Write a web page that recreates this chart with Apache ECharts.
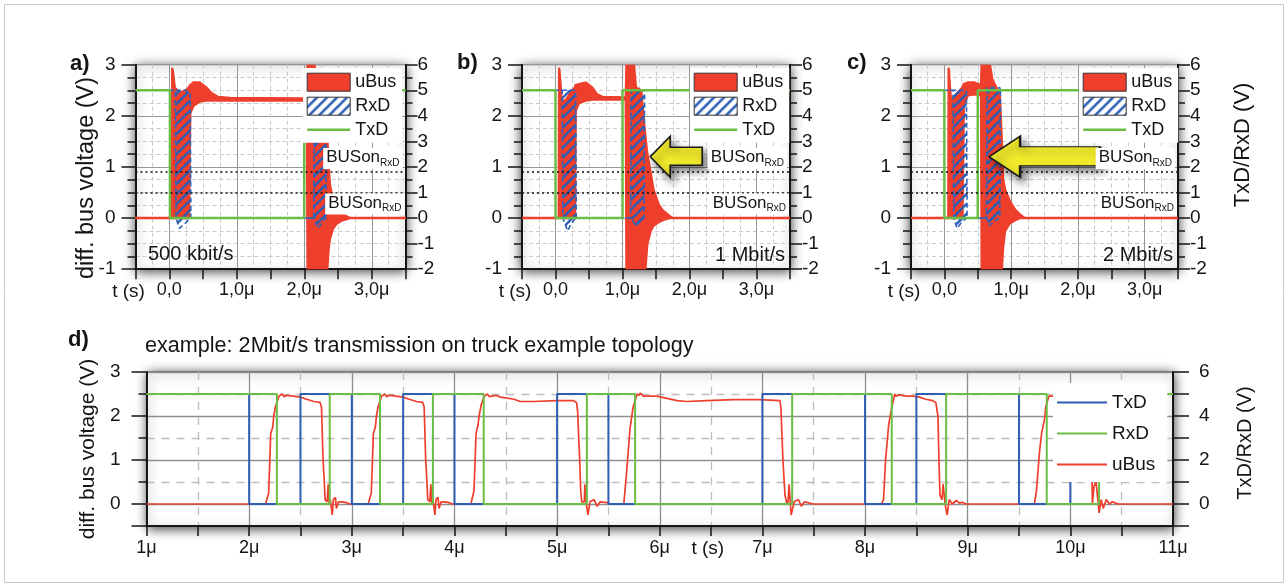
<!DOCTYPE html>
<html><head><meta charset="utf-8">
<script src="https://cdn.jsdelivr.net/npm/echarts@6/dist/echarts.min.js"></script>
<style>html,body{margin:0;padding:0;background:#fff}#c{width:1288px;height:587px}</style>
</head><body><div id="c"></div><script>
// ---------------- DATA ----------------
// panels a-c: time in µs; uBus rows [t, low, high] in V (left axis); RxD rows [t, low, high] in V (right axis); TxD [t, V] (right axis)
const ubusA = [[-0.5,0,0],[0.04,0,0],[0.045,0,2.92],[0.06,0,2.8],[0.08,0,2.55],[0.15,0,2.45],[0.25,0,2.5],[0.29,0,2.55],[0.31,2.05,2.6],[0.36,2.2,2.65],[0.45,2.28,2.65],[0.55,2.3,2.55],[0.62,2.3,2.45],[0.72,2.3,2.37],[0.9,2.3,2.35],[2.04,2.3,2.34],[2.05,-1,3.0],[2.15,-1,3.0],[2.2,-1,2.5],[2.3,-1,2.0],[2.34,-1,1.6],[2.36,-0.6,1.0],[2.38,-0.4,0.65],[2.42,-0.22,0.38],[2.47,-0.12,0.22],[2.55,-0.05,0.1],[2.63,-0.02,0.03],[2.68,0,0],[3.5,0,0]];
const rxdA = [[-0.5,5,5],[0.09,5,5],[0.1,0,5],[0.15,-0.4,5],[0.24,-0.2,5],[0.31,0,4.9],[0.32,0,0],[2.14,0,0],[2.15,0,5],[2.2,-0.4,5],[2.32,0,5],[2.33,5,5],[3.5,5,5]];
const txdA = [[-0.5,5],[0.01,5],[0.01,0],[2.0,0],[2.0,5],[3.5,5]];

const ubusB = [[-0.5,0,0],[0.05,0,0],[0.055,0,2.92],[0.07,0,2.7],[0.09,0,2.3],[0.15,0,2.3],[0.25,0,2.5],[0.29,0,2.55],[0.3,2.1,2.6],[0.35,2.25,2.62],[0.45,2.3,2.65],[0.55,2.32,2.55],[0.62,2.32,2.42],[0.7,2.32,2.37],[1.05,2.32,2.36],[1.06,-1,3.0],[1.17,-1,3.0],[1.2,-1,2.55],[1.28,-1,2.5],[1.31,-1,2.0],[1.34,-1,1.6],[1.37,-0.5,1.25],[1.42,-0.25,0.88],[1.46,-0.15,0.56],[1.54,-0.08,0.26],[1.6,-0.04,0.15],[1.7,0,0.04],[1.75,0,0],[3.5,0,0]];
const rxdB = [[-0.5,5,5],[0.1,5,5],[0.11,0,5],[0.18,-0.5,5],[0.24,-0.2,5],[0.3,0,5],[0.31,0,0],[1.12,0,0],[1.13,0,5],[1.2,-0.3,5],[1.32,0,5],[1.33,5,5],[3.5,5,5]];
const txdB = [[-0.5,5],[0,5],[0,0],[1.0,0],[1.0,5],[3.5,5]];

const ubusC = [[-0.5,0,0],[0.06,0,0],[0.065,0,2.92],[0.08,0,2.6],[0.1,0,2.3],[0.2,0,2.45],[0.27,0,2.55],[0.29,2.2,2.62],[0.35,2.4,2.65],[0.45,2.42,2.65],[0.55,2.4,2.6],[0.56,-1,3.0],[0.68,-1,3.0],[0.72,-1,2.7],[0.8,-1,2.5],[0.83,-1,2.4],[0.86,-1,1.5],[0.88,-0.55,0.75],[0.91,-0.25,0.55],[0.98,-0.1,0.33],[1.06,-0.04,0.16],[1.13,0,0.07],[1.18,0,0.02],[1.2,0,0],[3.5,0,0]];
const rxdC = [[-0.5,5,5],[0.13,5,5],[0.14,0,5],[0.19,-0.4,5],[0.26,-0.15,5],[0.33,0,5],[0.34,0,0],[0.63,0,0],[0.64,0,5.1],[0.67,-0.3,5.1],[0.76,-0.1,5.1],[0.83,0,5.1],[0.84,5,5],[3.5,5,5]];
const txdC = [[-0.5,5],[0,5],[0,0],[0.5,0],[0.5,5],[3.5,5]];

const thresholds = [0.9, 0.5];        // BUSon(RxD) levels, V
const arrowB = [1.414, 1.2];          // arrow tip (µs, V)
const arrowC = [0.67, 1.2];
const topXLabels = ['0,0', '1,0μ', '2,0μ', '3,0μ'];
const rateLabels = ['500 kbit/s', '1 Mbit/s', '2 Mbit/s'];

// panel d: [t µs, value]
const txdD = [[1,5],[2.0,5],[2.0,0],[2.5,0],[2.5,5],[3.0,5],[3.0,0],[3.5,0],[3.5,5],[4.0,5],[4.0,0],[5.0,0],[5.0,5],[5.5,5],[5.5,0],[7.0,0],[7.0,5],[8.0,5],[8.0,0],[8.5,0],[8.5,5],[9.5,5],[9.5,0],[10.0,0],[10.0,5],[11,5]];
const rxdD = [[1,5],[2.27,5],[2.27,0],[2.785,0],[2.785,5],[3.275,5],[3.275,0],[3.79,0],[3.79,5],[4.285,5],[4.285,0],[5.29,0],[5.29,5],[5.76,5],[5.76,0],[7.29,0],[7.29,5],[8.26,5],[8.26,0],[8.79,0],[8.79,5],[9.77,5],[9.77,0],[10.28,0],[10.28,5],[11,5]];
const ubusD = [[1.0,0],[2.16,0],[2.19,0.25],[2.2,0.9],[2.21,1.6],[2.23,1.75],[2.24,2.0],[2.255,2.2],[2.29,2.45],[2.32,2.5],[2.34,2.44],[2.37,2.47],[2.43,2.45],[2.5,2.43],[2.56,2.38],[2.63,2.33],[2.69,2.31],[2.705,2.2],[2.71,1.8],[2.72,1.0],[2.73,0.6],[2.74,0.1],[2.76,0.05],[2.77,0.45],[2.78,0.0],[2.79,0.1],[2.81,-0.25],[2.82,0.1],[2.84,0.15],[2.85,-0.1],[2.87,0.05],[2.9,0.05],[2.95,0.03],[2.98,0],
[3.16,0],[3.19,0.25],[3.2,0.9],[3.21,1.6],[3.23,1.75],[3.24,2.0],[3.255,2.2],[3.29,2.45],[3.32,2.5],[3.34,2.44],[3.37,2.47],[3.43,2.45],[3.5,2.43],[3.56,2.38],[3.63,2.33],[3.69,2.31],[3.705,2.2],[3.71,1.8],[3.72,1.0],[3.73,0.6],[3.74,0.1],[3.76,0.05],[3.77,0.45],[3.78,0.0],[3.79,0.1],[3.81,-0.25],[3.82,0.1],[3.84,0.15],[3.85,-0.1],[3.87,0.05],[3.9,0.05],[3.95,0.03],[3.98,0],
[4.16,0],[4.19,0.3],[4.2,0.9],[4.21,1.6],[4.23,1.8],[4.24,2.0],[4.26,2.25],[4.29,2.45],[4.32,2.5],[4.34,2.44],[4.4,2.47],[4.45,2.43],[4.58,2.38],[4.64,2.33],[4.77,2.33],[5.0,2.35],[5.16,2.35],[5.19,2.3],[5.2,2.1],[5.22,1.0],[5.23,0.3],[5.24,0.05],[5.265,0.05],[5.27,0.45],[5.285,0],[5.3,-0.25],[5.32,0.05],[5.36,0.1],[5.39,-0.05],[5.42,0.05],[5.49,0.03],[5.52,0],
[5.65,0],[5.68,0.8],[5.71,1.7],[5.74,2.2],[5.78,2.5],[5.8,2.47],[5.81,2.52],[5.84,2.45],[5.97,2.45],[6.07,2.4],[6.17,2.35],[6.26,2.33],[6.46,2.35],[6.72,2.37],[6.97,2.37],[7.17,2.35],[7.18,2.2],[7.2,1.0],[7.22,0.2],[7.24,0],[7.25,0.05],[7.26,0.45],[7.28,-0.25],[7.31,0.05],[7.35,0.1],[7.38,-0.05],[7.41,0.05],[7.46,0.02],[7.5,0],
[8.16,0],[8.18,0.1],[8.2,1.0],[8.23,1.8],[8.26,2.2],[8.29,2.5],[8.3,2.45],[8.33,2.48],[8.4,2.45],[8.46,2.45],[8.53,2.43],[8.59,2.38],[8.66,2.35],[8.69,2.3],[8.71,2.0],[8.72,1.0],[8.73,0.2],[8.75,0.1],[8.76,0.45],[8.78,0],[8.8,-0.25],[8.82,0.1],[8.85,0],[8.89,0.08],[8.92,0.02],[8.95,0.04],[8.98,0],
[9.65,0],[9.67,0.3],[9.7,1.2],[9.72,1.6],[9.75,1.95],[9.76,2.2],[9.79,2.45],[9.9,2.45],[10.15,2.4],[10.19,2.35],[10.2,2.0],[10.21,0.8],[10.215,0],[10.23,0.4],[10.25,0.5],[10.27,0.05],[10.28,-0.2],[10.3,0.1],[10.32,-0.1],[10.35,0.1],[10.38,0],[10.41,0.05],[10.44,0.02],[10.47,0],[11,0]];

// ---------------- STYLE ----------------
const FONT = '"Liberation Sans", Arial, sans-serif';
const RED = '#ee3f2d', BLUE = '#2f5fb3', GREEN = '#6abd45', INK = '#151515', HATCH_BLUE = '#2a5db5';
const GRID_SOLID = '#979797', GRID_DASH = '#c9c9c9';

// hatch pattern only for the legend swatch
function hatchImage() {
  const n = 10;
  const c = document.createElement('canvas'); c.width = n; c.height = n;
  const g = c.getContext('2d');
  g.strokeStyle = HATCH_BLUE; g.lineWidth = 2.6; g.lineCap = 'square';
  g.beginPath();
  g.moveTo(0, n); g.lineTo(n, 0);
  g.moveTo(-3, 3); g.lineTo(3, -3);
  g.moveTo(n - 3, n + 3); g.lineTo(n + 3, n - 3);
  g.stroke();
  return c;
}
const HATCH = { image: hatchImage(), repeat: 'repeat' };

// diagonal "/" stripes clipped to a pixel polygon
function hatchSegments(pts, step) {
  let minC = Infinity, maxC = -Infinity;
  pts.forEach(p => { const c = p[0] + p[1]; if (c < minC) minC = c; if (c > maxC) maxC = c; });
  const segs = [];
  for (let c = Math.ceil(minC / step) * step + 0.5; c <= maxC; c += step) {
    const xs = [];
    for (let i = 0; i < pts.length; i++) {
      const a = pts[i], b = pts[(i + 1) % pts.length];
      const fa = a[0] + a[1] - c, fb = b[0] + b[1] - c;
      if ((fa < 0) !== (fb < 0)) {
        const t = fa / (fa - fb);
        xs.push([a[0] + t * (b[0] - a[0]), a[1] + t * (b[1] - a[1])]);
      }
    }
    xs.sort((u, v) => u[0] - v[0]);
    for (let j = 0; j + 1 < xs.length; j += 2) {
      if (Math.abs(xs[j + 1][0] - xs[j][0]) > 0.8) segs.push([xs[j], xs[j + 1]]);
    }
  }
  return segs;
}

const axisLineS = { show: true, onZero: false, lineStyle: { color: INK, width: 2 } };
const tickS = (len) => ({ show: true, length: len, lineStyle: { color: INK, width: 1.5 } });
const lineIcon = (w, h) => 'path://M0,0 L' + w + ',0 L' + w + ',' + h + ' L0,' + h + ' Z';

function bandPoints(rows, api) {
  const top = rows.map(r => api.coord([r[0], r[2]]));
  const bot = rows.map(r => api.coord([r[0], r[1]])).reverse();
  return top.concat(bot);
}
function redBand(name, rows, xi, yi) {
  return { type: 'custom', name: name, xAxisIndex: xi, yAxisIndex: yi, z: 2, clip: true, silent: true,
    itemStyle: { color: RED }, data: rows, encode: { x: 0, y: [1, 2] },
    renderItem: (params, api) => params.dataIndex !== 0 ? null :
      { type: 'polygon', shape: { points: bandPoints(rows, api) }, style: { fill: RED, stroke: RED, lineWidth: 2.5, lineJoin: 'round' } } };
}
function hatchBand(name, rows, xi, yi) {
  return { type: 'custom', name: name, xAxisIndex: xi, yAxisIndex: yi, z: 3, clip: true, silent: true,
    itemStyle: { color: HATCH_BLUE }, data: rows, encode: { x: 0, y: [1, 2] },
    renderItem: (params, api) => {
      if (params.dataIndex !== 0) return null;
      const pts = bandPoints(rows, api);
      const children = hatchSegments(pts, 10).map(s => ({ type: 'line',
        shape: { x1: s[0][0], y1: s[0][1], x2: s[1][0], y2: s[1][1] },
        style: { stroke: HATCH_BLUE, lineWidth: 2.4, lineCap: 'butt' } }));
      children.push({ type: 'polygon', shape: { points: pts },
        style: { fill: 'none', stroke: '#2f63b8', lineWidth: 1.6, lineDash: [5, 3], lineJoin: 'round' } });
      return { type: 'group', children: children };
    } };
}

const grid = [], xAxis = [], yAxis = [], series = [], legend = [];
const panels = [
  { k: 'a', left: 135.5, width: 270, ubus: ubusA, rxd: rxdA, txd: txdA, arrow: null, legLeft: 303 },
  { k: 'b', left: 522, width: 268, ubus: ubusB, rxd: rxdB, txd: txdB, arrow: { c: arrowB, w: 52, path: 'path://M0,20.5 L20,0 L20,11 L52,11 L52,29 L20,29 L20,41 Z' }, legLeft: 690 },
  { k: 'c', left: 911, width: 267, ubus: ubusC, rxd: rxdC, txd: txdC, arrow: { c: arrowC, w: 111, path: 'path://M0,20.5 L31,0 L31,10.5 L111,10.5 L111,29.5 L31,29.5 L31,41 Z' }, legLeft: 1079 }
];

panels.forEach((p, i) => {
  grid.push({ left: p.left, top: 64.7, width: p.width, height: 204.5, show: true, backgroundColor: '#fff',
    borderColor: '#333', borderWidth: 1, shadowBlur: 11, shadowColor: 'rgba(0,0,0,0.8)', shadowOffsetX: 0, shadowOffsetY: 2 });
  const xMain = xAxis.length;
  xAxis.push({ gridIndex: i, type: 'value', min: -0.5, max: 3.5, splitNumber: 4, position: 'bottom',
    axisLine: axisLineS, axisTick: tickS(10), minorTick: Object.assign(tickS(10), { splitNumber: 2 }),
    axisLabel: { color: INK, fontSize: 18, fontFamily: FONT, margin: 12,
      formatter: v => (Number.isInteger(v) && v >= 0 && v < topXLabels.length) ? topXLabels[v] : '' },
    splitLine: { show: true, lineStyle: { color: GRID_SOLID, width: 1 } },
    name: 't (s)', nameLocation: 'start', nameGap: 7, nameMoveOverlap: false,
    nameTextStyle: { color: INK, fontSize: 19, fontFamily: FONT, align: 'center', verticalAlign: 'top', padding: [13, 0, 0, 0] } });
  xAxis.push({ gridIndex: i, type: 'value', min: -0.5, max: 3.5, splitNumber: 4, position: 'top',
    axisLine: { show: false }, axisTick: { show: false }, axisLabel: { show: false }, splitLine: { show: false },
    minorTick: { show: false, splitNumber: 4 },
    minorSplitLine: { show: true, lineStyle: { color: GRID_DASH, width: 1, type: [4, 3] } } });
  const yL = yAxis.length;
  yAxis.push({ gridIndex: i, type: 'value', min: -1, max: 3, interval: 1, position: 'left',
    axisLine: axisLineS, axisTick: tickS(14), minorTick: Object.assign(tickS(8), { splitNumber: 4 }),
    axisLabel: { color: INK, fontSize: 19, fontFamily: FONT, margin: 20 },
    splitLine: { show: true, lineStyle: { color: GRID_SOLID, width: 1 } },
    minorSplitLine: { show: true, lineStyle: { color: GRID_DASH, width: 1, type: [4, 3] } },
    name: i === 0 ? 'diff. bus voltage (V)' : '', nameLocation: 'middle', nameGap: 37, nameRotate: 90, nameMoveOverlap: false,
    nameTextStyle: { color: INK, fontSize: 23.5, fontFamily: FONT, padding: [0, 22, 0, 0] } });
  const yR = yAxis.length;
  yAxis.push({ gridIndex: i, type: 'value', min: -2, max: 6, interval: 1, position: 'right',
    axisLine: axisLineS, axisTick: tickS(12), minorTick: Object.assign(tickS(7), { splitNumber: 2 }),
    axisLabel: { color: INK, fontSize: 19, fontFamily: FONT, margin: 12 },
    splitLine: { show: false },
    name: i === 2 ? 'TxD/RxD (V)' : '', nameLocation: 'middle', nameGap: 54, nameRotate: 90, nameMoveOverlap: false,
    nameTextStyle: { color: INK, fontSize: 22, fontFamily: FONT, padding: [0, 0, 0, 44] } });

  series.push(redBand('uBus_' + p.k, p.ubus, xMain, yL));
  series.push(hatchBand('RxD_' + p.k, p.rxd, xMain, yR));
  series.push({ type: 'line', name: 'TxD_' + p.k, xAxisIndex: xMain, yAxisIndex: yR, data: p.txd, z: 4,
    symbol: 'none', lineStyle: { color: GREEN, width: 2.5 }, itemStyle: { color: GREEN }, silent: true });
  const thr = { type: 'line', name: 'thr_' + p.k, xAxisIndex: xMain, yAxisIndex: yL, data: [], z: 5, silent: true,
    markLine: { silent: true, symbol: ['none', 'none'], animation: false,
      lineStyle: { color: INK, type: [2, 3], width: 1.6 },
      data: thresholds.map((v, k) => ({ yAxis: v,
        label: { show: true, position: k === 0 ? 'insideEndTop' : 'insideEndBottom', distance: k === 0 ? 3 : 1,
          formatter: '{a|BUSon}{s|RxD}', backgroundColor: '#fff', padding: [1, 3, 1, 3],
          rich: { a: { fontSize: 17, lineHeight: 19, verticalAlign: 'top', fontFamily: FONT, color: INK },
                  s: { fontSize: 10, lineHeight: 2, verticalAlign: 'bottom', fontFamily: FONT, color: INK } } } })) } };
  if (p.arrow) {
    thr.markPoint = { silent: true, animation: false,
      data: [{ coord: p.arrow.c, symbol: p.arrow.path, symbolSize: [p.arrow.w, 41], symbolOffset: ['50%', 0],
        itemStyle: { color: '#f2eb2c', borderColor: '#1a1a1a', borderWidth: 1.5, shadowBlur: 8,
          shadowColor: 'rgba(0,0,0,0.55)', shadowOffsetX: 4, shadowOffsetY: 5 }, label: { show: false } }] };
  }
  series.push(thr);

  legend.push({ left: p.legLeft, top: 68, orient: 'vertical', itemWidth: 43, itemHeight: 18, itemGap: 5,
    padding: [4.7, 6, 4, 3.7], backgroundColor: '#fff', selectedMode: false, z: 6, symbolKeepAspect: true,
    textStyle: { color: INK, fontSize: 18, fontFamily: FONT },
    formatter: n => n.split('_')[0],
    data: [
      { name: 'uBus_' + p.k, icon: 'rect', itemStyle: { color: RED, borderColor: '#333', borderWidth: 1 } },
      { name: 'RxD_' + p.k, icon: 'rect', itemStyle: { color: HATCH, borderColor: '#333', borderWidth: 1 } },
      { name: 'TxD_' + p.k, icon: lineIcon(43, 2.5), itemStyle: { color: GREEN, borderWidth: 0 } }
    ] });
});

// ---------- panel d ----------
grid.push({ left: 146.5, top: 372, width: 1026.5, height: 154, show: true, backgroundColor: '#fff',
  borderColor: '#333', borderWidth: 1, shadowBlur: 11, shadowColor: 'rgba(0,0,0,0.8)', shadowOffsetX: 1, shadowOffsetY: 2 });
const xD = xAxis.length;
xAxis.push({ gridIndex: 3, type: 'value', min: 1, max: 11, interval: 1, position: 'bottom',
  axisLine: axisLineS, axisTick: tickS(10), minorTick: Object.assign(tickS(10), { splitNumber: 2 }),
  axisLabel: { color: INK, fontSize: 18, fontFamily: FONT, margin: 13, formatter: v => v + 'μ' },
  splitLine: { show: true, lineStyle: { color: '#8e8e8e', width: 1.3 } },
  minorSplitLine: { show: true, lineStyle: { color: '#bdbdbd', width: 1.3, type: [8, 7] } },
  name: 't (s)', nameLocation: 'middle', nameGap: 13, nameMoveOverlap: false,
  nameTextStyle: { color: INK, fontSize: 19, fontFamily: FONT, verticalAlign: 'top', padding: [0, 0, 0, 96] } });
const yDL = yAxis.length;
yAxis.push({ gridIndex: 3, type: 'value', min: -0.5, max: 3, splitNumber: 4, position: 'left',
  axisLine: axisLineS, axisTick: tickS(15), minorTick: Object.assign(tickS(8), { splitNumber: 2 }),
  axisLabel: { color: INK, fontSize: 19, fontFamily: FONT, margin: 26, formatter: v => Number.isInteger(v) ? String(v) : '' },
  splitLine: { show: true, lineStyle: { color: '#8e8e8e', width: 1.3 } },
  minorSplitLine: { show: true, lineStyle: { color: '#bdbdbd', width: 1.3, type: [8, 7] } },
  name: 'diff. bus voltage (V)', nameLocation: 'middle', nameGap: 48, nameRotate: 90, nameMoveOverlap: false,
  nameTextStyle: { color: INK, fontSize: 21, fontFamily: FONT } });
const yDR = yAxis.length;
yAxis.push({ gridIndex: 3, type: 'value', min: -1, max: 6, interval: 1, position: 'right',
  axisLine: axisLineS, axisTick: tickS(16),
  axisLabel: { color: INK, fontSize: 19, fontFamily: FONT, margin: 26, formatter: v => (v >= 0 && v % 2 === 0) ? String(v) : '' },
  splitLine: { show: false },
  name: 'TxD/RxD (V)', nameLocation: 'middle', nameGap: 62, nameRotate: 90, nameMoveOverlap: false,
  nameTextStyle: { color: INK, fontSize: 20, fontFamily: FONT, padding: [0, 0, 0, 12] } });

series.push({ type: 'line', name: 'uBus_d', xAxisIndex: xD, yAxisIndex: yDL, data: ubusD, z: 2, symbol: 'none',
  lineStyle: { color: RED, width: 1.7 }, itemStyle: { color: RED }, silent: true });
series.push({ type: 'line', name: 'TxD_d', xAxisIndex: xD, yAxisIndex: yDR, data: txdD, z: 3, symbol: 'none',
  lineStyle: { color: BLUE, width: 2 }, itemStyle: { color: BLUE }, silent: true });
series.push({ type: 'line', name: 'RxD_d', xAxisIndex: xD, yAxisIndex: yDR, data: rxdD, z: 4, symbol: 'none',
  lineStyle: { color: GREEN, width: 2 }, itemStyle: { color: GREEN }, silent: true });
legend.push({ left: 1053, top: 383, orient: 'vertical', itemWidth: 50, itemHeight: 14, itemGap: 12,
  padding: [10, 12, 8, 4], backgroundColor: '#fff', selectedMode: false, z: 6, symbolKeepAspect: true,
  textStyle: { color: INK, fontSize: 19, fontFamily: FONT }, formatter: n => n.split('_')[0],
  data: [
    { name: 'TxD_d', icon: lineIcon(50, 2), itemStyle: { color: BLUE, borderWidth: 0 } },
    { name: 'RxD_d', icon: lineIcon(50, 2), itemStyle: { color: GREEN, borderWidth: 0 } },
    { name: 'uBus_d', icon: lineIcon(50, 2), itemStyle: { color: RED, borderWidth: 0 } }
  ] });

// ---------- texts ----------
const txt = (x, y, text, size, opts) => Object.assign({ type: 'text', x: x, y: y, z: 20, silent: true,
  style: Object.assign({ text: text, fontSize: size, fontFamily: FONT, fill: INK, align: 'left', verticalAlign: 'middle' }, opts || {}) });
const graphic = [
  { type: 'rect', shape: { x: 4.5, y: 4.5, width: 1279, height: 578 }, style: { fill: 'none', stroke: '#c8c8c8', lineWidth: 1 }, silent: true, z: -10 },
  txt(70, 64, 'a)', 22, { fontWeight: 'bold' }),
  txt(457, 63, 'b)', 22, { fontWeight: 'bold' }),
  txt(847, 63, 'c)', 22, { fontWeight: 'bold' }),
  txt(68, 340, 'd)', 22, { fontWeight: 'bold' }),
  txt(148, 254, rateLabels[0], 20),
  txt(785, 255, rateLabels[1], 20, { align: 'right' }),
  txt(1173, 255, rateLabels[2], 20, { align: 'right' }),
  txt(145, 346, 'example: 2Mbit/s transmission on truck example topology', 21.6)
];

const chart = echarts.init(document.getElementById('c'), null, { renderer: 'canvas' });
chart.setOption({ animation: false, backgroundColor: '#fff', textStyle: { fontFamily: FONT },
  grid: grid, xAxis: xAxis, yAxis: yAxis, series: series, legend: legend, graphic: graphic });
</script></body></html>
